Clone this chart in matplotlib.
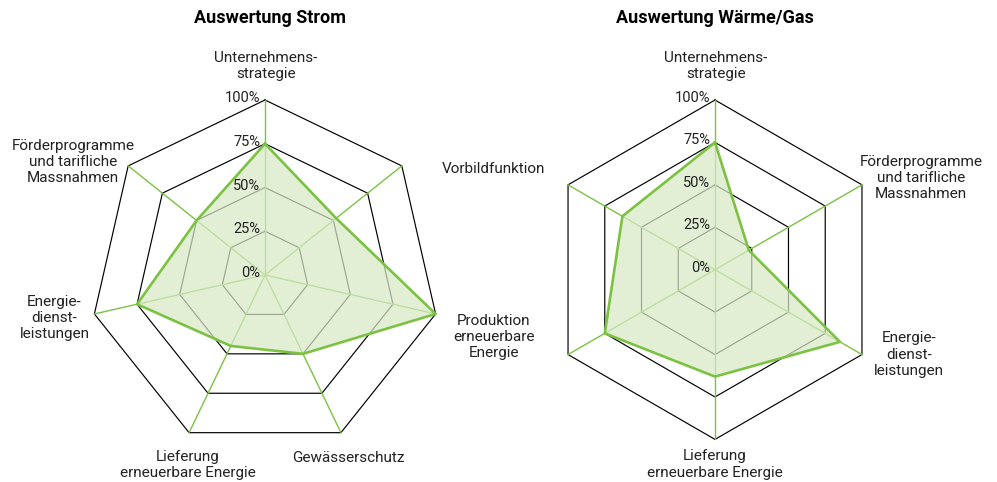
import numpy as np
import matplotlib.pyplot as plt

plt.rcParams['font.family'] = ['Roboto', 'DejaVu Sans']

# --- data ---
strom_labels = ["Unternehmens-\nstrategie", "Vorbildfunktion",
                "Produktion\nerneuerbare\nEnergie", "Gewässerschutz",
                "Lieferung\nerneuerbare Energie", "Energie-\ndienst-\nleistungen",
                "Förderprogramme\nund tarifliche\nMassnahmen"]
strom_values = [0.75, 0.52, 1.0, 0.5, 0.45, 0.75, 0.5]

waerme_labels = ["Unternehmens-\nstrategie", "Förderprogramme\nund tarifliche\nMassnahmen",
                 "Energie-\ndienst-\nleistungen", "Lieferung\nerneuerbare Energie", "", ""]
waerme_values = [0.75, 0.23, 0.85, 0.63, 0.75, 0.63]

ring_levels = [0.25, 0.5, 0.75, 1.0]
tick_levels = [0, 0.25, 0.5, 0.75, 1.0]
tick_labels = ["0%", "25%", "50%", "75%", "100%"]

GREEN = "#7cc242"
FILL = "#d7e9c6"
TXT = "#222222"
W, H = 997, 482

fig = plt.figure(figsize=(W / 100, H / 100), dpi=100)


def radar(box, title, title_xy, labels, values, offsets):
    # box in pixels: x0, y_top, size
    x0, ytop, size = box
    ax = fig.add_axes([x0 / W, (H - ytop - size) / H, size / W, size / H], projection="polar")
    n = len(values)
    theta = np.linspace(0, 2 * np.pi, n, endpoint=False)
    closed = np.append(theta, theta[0])
    ax.set_theta_zero_location("N")
    ax.set_theta_direction(-1)
    ax.set_ylim(0, 1)
    ax.axis("off")

    for lvl in ring_levels:
        ax.plot(closed, [lvl] * (n + 1), color="black", lw=0.85, zorder=1, clip_on=False)
    for t in theta:
        ax.plot([t, t], [0, 1], color=GREEN, lw=1.0, zorder=1, clip_on=False)

    v = np.append(values, values[0])
    ax.fill(closed, v, color=FILL, alpha=0.72, lw=0, zorder=2, clip_on=False)
    ax.plot(closed, v, color=GREEN, lw=1.9, zorder=3, clip_on=False)

    for lvl, txt in zip(tick_levels, tick_labels):
        ax.annotate(txt, xy=(0, lvl), xytext=(-5, 2), textcoords="offset pixels",
                    ha="right", va="center", fontsize=10.5, color=TXT, zorder=4)
    for t, lab, off in zip(theta, labels, offsets):
        if not lab:
            continue
        ax.annotate(lab, xy=(t, 1), xytext=off, textcoords="offset pixels",
                    ha="center", va="center", fontsize=11, linespacing=1.2,
                    color=TXT, annotation_clip=False)

    fig.text(title_xy[0] / W, 1 - title_xy[1] / H, title, ha="center", va="center",
             fontsize=13, fontweight="bold", color="black")
    return ax


radar((90, 100, 350), "Auswertung Strom", (270, 18), strom_labels, strom_values,
      [(1, 34), (92, -3), (58, -23), (7, -25), (-1, -32), (-40, -4), (-55, 4)])
radar((545.3, 100, 339.4), "Auswertung Wärme/Gas", (715, 18), waerme_labels, waerme_values,
      [(1, 34), (59, 7), (47, 0), (0, -25), (0, 0), (0, 0)])

fig.savefig("out.png", dpi=100)
